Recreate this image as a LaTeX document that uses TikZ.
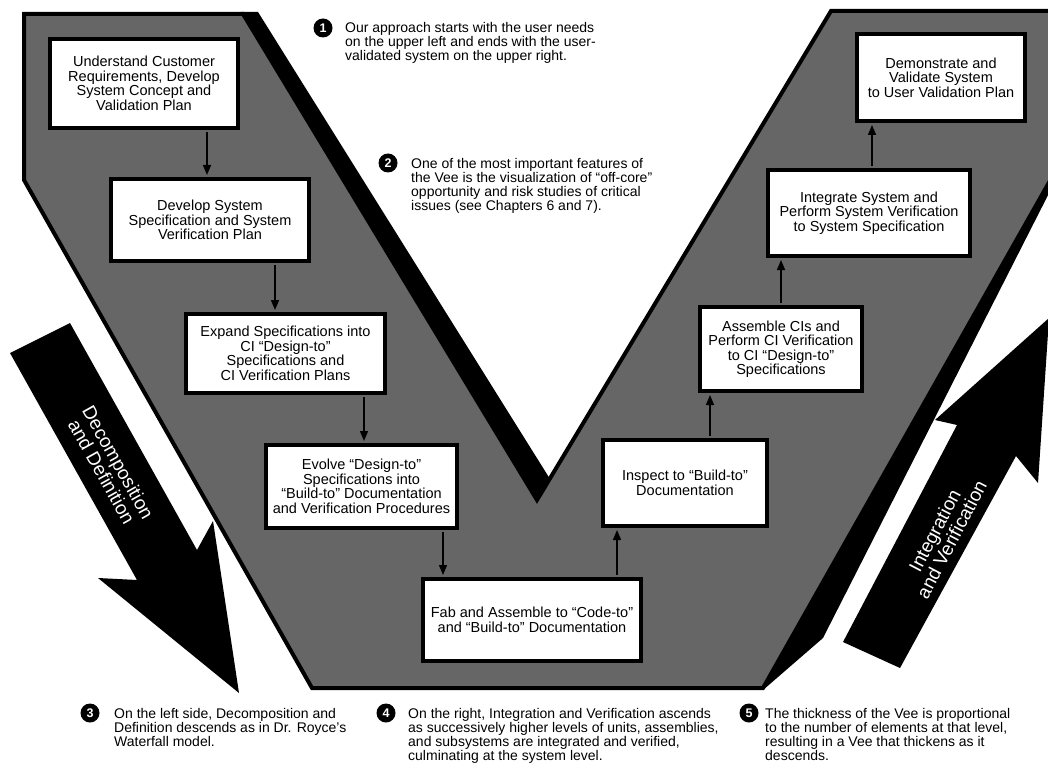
\documentclass[tikz,border=0pt]{standalone}
\usepackage{fontspec}
\setmainfont{Liberation Sans}
\usetikzlibrary{arrows.meta}
\definecolor{veegray}{RGB}{102,102,102}
\tikzset{
  stepbox/.style={draw=black, line width=4pt, fill=white, align=center, inner sep=0pt,
     font=\fontsize{14.5}{14.5}\selectfont},
  flow/.style={-{Triangle[length=10pt,width=8pt]}, line width=1.4pt, shorten <=2pt, shorten >=2pt},
  num/.style={circle, fill=black, text=white, inner sep=0pt, minimum size=19pt,
     font=\fontsize{12.5}{12.5}\selectfont\bfseries},
  note/.style={anchor=north west, align=left, inner sep=0pt, font=\fontsize{14}{14}\selectfont},
  bigtext/.style={text=white, align=center, inner sep=0pt, font=\fontsize{19}{19}\selectfont},
  veeline/.style={line width=4pt, line join=miter}
}
\begin{document}
\begin{tikzpicture}[x=1pt,y=-1pt]
\useasboundingbox (0,0) rectangle (1048,767);
\begin{scope}
\clip (0,0) rectangle (1048,767);
% Vee face
\fill[veegray] (24,14) -- (243,14) -- (537,500) -- (831,11) -- (1146,11) -- (763,688) -- (312,688) -- (24,180) -- cycle;
% dark sides
\fill[black] (241,12) -- (258,12) -- (550,479) -- (537,502) -- cycle;
\fill[black] (763,690) -- (823,638) -- (1106,81) -- cycle;
\draw[veeline] (24,14) -- (243,14) -- (537,500) -- (831,11) -- (1146,11) -- (763,688) -- (312,688) -- (24,180) -- cycle;
% big arrows
\fill[black] (10,353) -- (70,323) -- (197,550) -- (213,521) -- (239,693) -- (98,578) -- (137,580) -- cycle;
\fill[black] (843,642) -- (957,425) -- (935,420) -- (1049,318) -- (1038,483) -- (1016,456) -- (900,668) -- cycle;
\end{scope}
\node[bigtext, rotate=-60.7] (dtext) at (110,467) {Decomposition\\and Definition};
\node[bigtext, rotate=62.4] (itext) at (943,535) {Integration\\and Verification};
% boxes
\node[stepbox, minimum width=188pt, minimum height=89pt] (b1) at (144,83.5) {Understand Customer\\Requirements, Develop\\System Concept and\\Validation Plan};
\node[stepbox, minimum width=198pt, minimum height=82pt] (b2) at (210,220) {Develop System\\Specification and System\\Verification Plan};
\node[stepbox, minimum width=199pt, minimum height=79pt] (b3) at (285.5,353.5) {Expand Specifications into\\CI “Design-to”\\Specifications and\\CI Verification Plans};
\node[stepbox, minimum width=191pt, minimum height=83pt] (b4) at (361.5,486.5) {Evolve “Design-to”\\Specifications into\\“Build-to” Documentation\\and Verification Procedures};
\node[stepbox, minimum width=218pt, minimum height=82pt] (b5) at (532,620) {Fab and Assemble to “Code-to”\\and “Build-to” Documentation};
\node[stepbox, minimum width=164pt, minimum height=86pt] (b6) at (685,483) {Inspect to “Build-to”\\Documentation};
\node[stepbox, minimum width=162pt, minimum height=84pt] (b7) at (781,349) {Assemble CIs and\\Perform CI Verification\\to CI “Design-to”\\Specifications};
\node[stepbox, minimum width=202pt, minimum height=86pt] (b8) at (869,213) {Integrate System and\\Perform System Verification\\to System Specification};
\node[stepbox, minimum width=168pt, minimum height=87pt] (b9) at (941,77.5) {Demonstrate and\\Validate System\\to User Validation Plan};
% connector columns
\coordinate (x12) at (207,0);
\coordinate (x23) at (275,0);
\coordinate (x34) at (364,0);
\coordinate (x45) at (443,0);
\coordinate (x56) at (617,0);
\coordinate (x67) at (710,0);
\coordinate (x78) at (781,0);
\coordinate (x89) at (872,0);
\draw[flow] (b1.south -| x12) -- (b2.north -| x12);
\draw[flow] (b2.south -| x23) -- (b3.north -| x23);
\draw[flow] (b3.south -| x34) -- (b4.north -| x34);
\draw[flow] (b4.south -| x45) -- (b5.north -| x45);
\draw[flow] (b5.north -| x56) -- (b6.south -| x56);
\draw[flow] (b6.north -| x67) -- (b7.south -| x67);
\draw[flow] (b7.north -| x78) -- (b8.south -| x78);
\draw[flow] (b8.north -| x89) -- (b9.south -| x89);
% notes
\node[num] (n1) at (323,28) {1};
\node[note] (t1) at (345,22) {Our approach starts with the user needs\\on the upper left and ends with the user-\\validated system on the upper right.};
\node[num] (n2) at (388,163) {2};
\node[note] (t2) at (411,158) {One of the most important features of\\the Vee is the visualization of “off-core”\\opportunity and risk studies of critical\\issues (see Chapters 6 and 7).};
\node[num] (n3) at (90,713) {3};
\node[note] (t3) at (114,708) {On the left side, Decomposition and\\Definition descends as in Dr. Royce’s\\Waterfall model.};
\node[num] (n4) at (386,713) {4};
\node[note] (t4) at (408,708) {On the right, Integration and Verification ascends\\as successively higher levels of units, assemblies,\\and subsystems are integrated and verified,\\culminating at the system level.};
\node[num] (n5) at (749,713) {5};
\node[note] (t5) at (765,708) {The thickness of the Vee is proportional\\to the number of elements at that level,\\resulting in a Vee that thickens as it\\descends.};
\end{tikzpicture}
\end{document}
